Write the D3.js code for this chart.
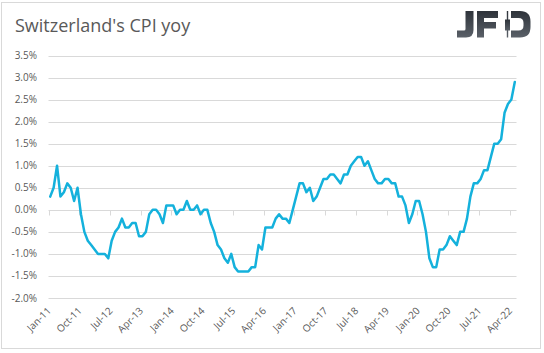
<!DOCTYPE html>
<html>
<head>
<meta charset="utf-8">
<script src="https://cdn.jsdelivr.net/npm/d3@7"></script>
<style>
  html, body { margin: 0; padding: 0; background: #fff; }
  svg text { font-family: "Open Sans", "Noto Sans", sans-serif; }
</style>
</head>
<body>
<div id="chart"></div>
<script>
// Swiss CPI, % yoy, monthly Jan-2011 .. May-2022
const cpi = [
    0.3, 0.5, 1.0, 0.3, 0.4, 0.6, 0.5, 0.2, 0.5, -0.1, -0.5, -0.7,     // 2011
    -0.8, -0.9, -1.0, -1.0, -1.0, -1.1, -0.7, -0.5, -0.4, -0.2, -0.4, -0.4, // 2012
    -0.3, -0.3, -0.6, -0.6, -0.5, -0.1, 0.0, 0.0, -0.1, -0.3, 0.1, 0.1,  // 2013
    0.1, -0.1, 0.0, 0.0, 0.2, 0.0, 0.0, 0.1, -0.1, 0.0, 0.0, -0.3,     // 2014
    -0.5, -0.8, -0.9, -1.1, -1.2, -1.0, -1.3, -1.4, -1.4, -1.4, -1.4, -1.3, // 2015
    -1.3, -0.8, -0.9, -0.4, -0.4, -0.4, -0.2, -0.1, -0.2, -0.2, -0.3, 0.0,  // 2016
    0.3, 0.6, 0.6, 0.4, 0.5, 0.2, 0.3, 0.5, 0.7, 0.7, 0.8, 0.8,        // 2017
    0.7, 0.6, 0.8, 0.8, 1.0, 1.1, 1.2, 1.2, 1.0, 1.1, 0.9, 0.7,        // 2018
    0.6, 0.6, 0.7, 0.7, 0.6, 0.6, 0.3, 0.3, 0.1, -0.3, -0.1, 0.2,      // 2019
    0.2, -0.1, -0.5, -1.1, -1.3, -1.3, -0.9, -0.9, -0.8, -0.6, -0.7, -0.8, // 2020
    -0.5, -0.5, -0.2, 0.3, 0.6, 0.6, 0.7, 0.9, 0.9, 1.2, 1.5, 1.5,     // 2021
    1.6, 2.2, 2.4, 2.5, 2.9                                            // 2022
];

// x labels shown every 9 months
const tickLabels = ['Jan-11', 'Oct-11', 'Jul-12', 'Apr-13', 'Jan-14', 'Oct-14', 'Jul-15', 'Apr-16',
    'Jan-17', 'Oct-17', 'Jul-18', 'Apr-19', 'Jan-20', 'Oct-20', 'Jul-21', 'Apr-22'];
const tickEvery = 9;

const yTicks = [-2.0, -1.5, -1.0, -0.5, 0.0, 0.5, 1.0, 1.5, 2.0, 2.5, 3.0, 3.5];

const width = 544;
const height = 353;

const svg = d3.select('#chart')
    .append('svg')
    .attr('width', width)
    .attr('height', height);

// outer frame
svg.append('rect')
    .attr('x', 1.5).attr('y', 2.5)
    .attr('width', 539).attr('height', 346)
    .attr('fill', '#fff')
    .attr('stroke', '#d9d9d9');

// title
svg.append('text')
    .attr('x', 15)
    .attr('y', 32)
    .attr('fill', '#595959')
    .style('font-size', '18px')
    .text("Switzerland's CPI yoy");

// logo (JFD, the D carries a candlestick)
const defs = svg.append('defs');
const grad = defs.append('linearGradient')
    .attr('id', 'logoGrad')
    .attr('x1', 0).attr('y1', 0).attr('x2', 0).attr('y2', 1);
grad.append('stop').attr('offset', '0%').attr('stop-color', '#2e333a');
grad.append('stop').attr('offset', '100%').attr('stop-color', '#5a6068');

const logo = svg.append('g').attr('fill', 'url(#logoGrad)');
logo.append('path')   // J
    .attr('d', 'M465.5,11 H473.5 V30 Q473.5,37.5 466,37.5 H457 V30.5 H464 Q465.5,30.5 465.5,29 Z');
logo.append('path')   // F
    .attr('d', 'M477,11 H498 V18 H484 V22 H496 V28.5 H484 V37.5 H477 Z');
logo.append('rect')   // candle wick
    .attr('x', 506.8).attr('y', 11).attr('width', 1.4).attr('height', 26.5);
logo.append('rect')   // candle body
    .attr('x', 505).attr('y', 19.5).attr('width', 5).attr('height', 11);
logo.append('path')   // D bowl
    .attr('d', 'M511,11 H520 Q530.5,11 530.5,21.5 V27 Q530.5,37.5 520,37.5 H511 V30.5 H518.5 Q523.5,30.5 523.5,25.5 V23 Q523.5,18 518.5,18 H511 Z');

// scales
const x = d3.scaleBand()
    .domain(d3.range(cpi.length))
    .range([48.5, 516.5]);

const y = d3.scaleLinear()
    .domain([-2, 3.5])
    .range([298, 55.5]);

// gridlines
svg.append('g')
    .selectAll('line')
    .data(yTicks)
    .join('line')
    .attr('x1', x.range()[0])
    .attr('x2', x.range()[1])
    .attr('y1', d => Math.round(y(d)) + 0.5)
    .attr('y2', d => Math.round(y(d)) + 0.5)
    .attr('stroke', '#d9d9d9')
    .attr('stroke-width', 1);

// y labels
svg.append('g')
    .selectAll('text')
    .data(yTicks)
    .join('text')
    .attr('x', 37)
    .attr('y', d => y(d))
    .attr('dy', '0.35em')
    .attr('text-anchor', 'end')
    .attr('fill', '#595959')
    .style('font-size', '10px')
    .text(d => d.toFixed(1) + '%');

// category axis on the zero line
const zeroY = Math.round(y(0)) + 0.5;
const tickIdx = tickLabels.map((d, i) => i * tickEvery);

svg.append('g')
    .selectAll('line')
    .data(tickIdx)
    .join('line')
    .attr('x1', d => Math.round(x(d)) + 0.5)
    .attr('x2', d => Math.round(x(d)) + 0.5)
    .attr('y1', zeroY)
    .attr('y2', zeroY + 5)
    .attr('stroke', '#d9d9d9');

svg.append('g')
    .selectAll('text')
    .data(tickLabels)
    .join('text')
    .attr('transform', (d, i) => {
        const cx = x(tickIdx[i]) + x.bandwidth() / 2 - 1;
        return `translate(${cx},309) rotate(-45)`;
    })
    .attr('text-anchor', 'end')
    .attr('dy', '0.35em')
    .attr('fill', '#595959')
    .style('font-size', '10px')
    .text(d => d);

// the line
const line = d3.line()
    .x((d, i) => x(i) + x.bandwidth() / 2)
    .y(d => y(d));

svg.append('path')
    .datum(cpi)
    .attr('fill', 'none')
    .attr('stroke', '#14b1dc')
    .attr('stroke-width', 2.5)
    .attr('stroke-linejoin', 'round')
    .attr('stroke-linecap', 'round')
    .attr('d', line);
</script>
</body>
</html>
